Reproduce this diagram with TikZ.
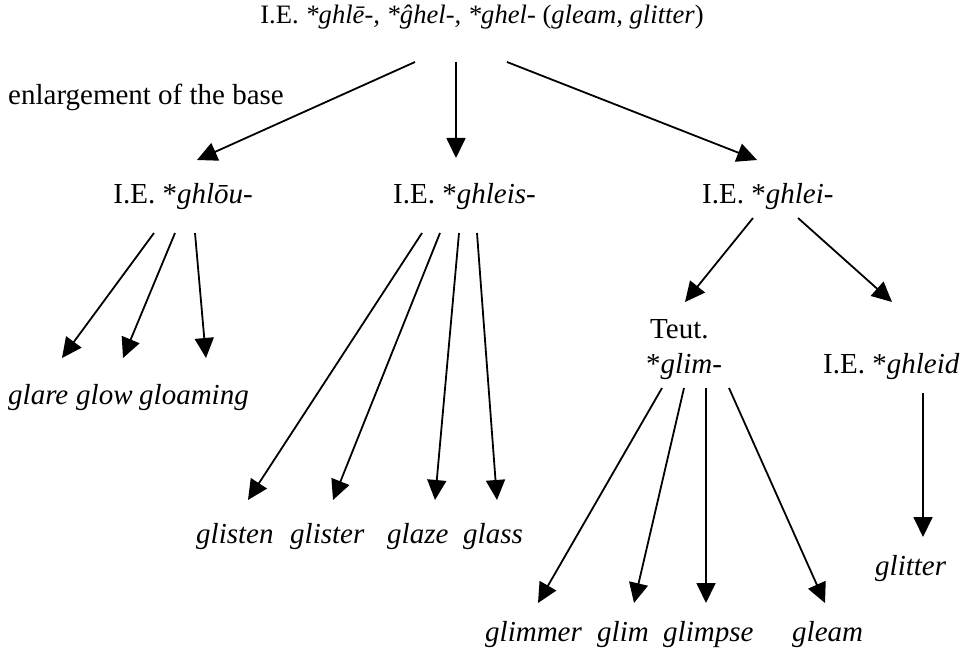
\documentclass[tikz,border=0pt]{standalone}
\usepackage{fontspec}
\setmainfont{Liberation Serif}
\usetikzlibrary{arrows.meta,calc}
\begin{document}
\begin{tikzpicture}[x=1pt,y=-1pt,
  lbl/.style={inner sep=0pt,font=\fontsize{29}{34}\selectfont},
  arr/.style={line width=1.8pt,-{Triangle[length=20pt,width=19pt]}}]
\useasboundingbox (0,0) rectangle (961,650);
% nodes
\node[lbl,anchor=base,font=\fontsize{26.6}{31}\selectfont] (top) at (482,24) {I.E. \textit{*ghlē-, *ĝhel-, *ghel-} (\textit{gleam, glitter})};
\node[lbl,anchor=base west] (enl) at (8,105) {enlargement of the base};
\node[lbl,anchor=base east] (ghlou) at (253,203) {I.E. *\textit{ghlōu-}};
\node[lbl,anchor=base west] (ghleis) at (393,203) {I.E. *\textit{ghleis-}};
\node[lbl,anchor=base west] (ghlei) at (702,203) {I.E. *\textit{ghlei-}};
\node[lbl,anchor=base west] (teut) at (650,338) {Teut.};
\node[lbl,anchor=base west] (glim) at (646,373) {*\textit{glim-}};
\node[lbl,anchor=base west] (ghleid) at (823,373) {I.E. *\textit{ghleid}};
\node[lbl,anchor=base west] (glare) at (8,404) {\textit{glare}};
\node[lbl,anchor=base west] (glow) at (76,404) {\textit{glow}};
\node[lbl,anchor=base west] (gloaming) at (139,404) {\textit{gloaming}};
\node[lbl,anchor=base west] (glisten) at (196,543) {\textit{glisten}};
\node[lbl,anchor=base west] (glister) at (290,543) {\textit{glister}};
\node[lbl,anchor=base west] (glaze) at (387,543) {\textit{glaze}};
\node[lbl,anchor=base west] (glass) at (463,543) {\textit{glass}};
\node[lbl,anchor=base west] (glimmer) at (485,641) {\textit{glimmer}};
\node[lbl,anchor=base west] (glimw) at (597,641) {\textit{glim}};
\node[lbl,anchor=base west] (glimpse) at (663,641) {\textit{glimpse}};
\node[lbl,anchor=base west] (gleam) at (792,641) {\textit{gleam}};
\node[lbl,anchor=base west] (glitter) at (875,575) {\textit{glitter}};
% connectors from top
\draw[arr] ($(top.base)+(-67,38)$) -- ($(ghlou.base east)+(-56,-43)$);
\draw[arr] ($(top.base)+(-26,38)$) -- ($(ghleis.base west)+(63,-45)$);
\draw[arr] ($(top.base)+(25,38)$) -- ($(ghlei.base west)+(55,-43)$);
% from ghlou
\draw[arr] ($(ghlou.base east)+(-99,30)$) -- ($(glare.base west)+(54,-46)$);
\draw[arr] ($(ghlou.base east)+(-78,30)$) -- ($(glow.base west)+(47,-46)$);
\draw[arr] ($(ghlou.base east)+(-58,30)$) -- ($(gloaming.base west)+(67,-46)$);
% from ghleis
\draw[arr] ($(ghleis.base west)+(29,30)$) -- ($(glisten.base west)+(52,-43)$);
\draw[arr] ($(ghleis.base west)+(47,30)$) -- ($(glister.base west)+(43,-43)$);
\draw[arr] ($(ghleis.base west)+(66,30)$) -- ($(glaze.base west)+(48,-43)$);
\draw[arr] ($(ghleis.base west)+(84,30)$) -- ($(glass.base west)+(34,-43)$);
% from ghlei
\draw[arr] ($(ghlei.base west)+(51,15)$) -- ($(teut.base west)+(35,-36)$);
\draw[arr] ($(ghlei.base west)+(96,15)$) -- ($(ghleid.base west)+(69,-71)$);
% from glim
\draw[arr] ($(glim.base west)+(16,15)$) -- ($(glimmer.base west)+(53,-38)$);
\draw[arr] ($(glim.base west)+(38,15)$) -- ($(glimw.base west)+(37,-38)$);
\draw[arr] ($(glim.base west)+(60,15)$) -- ($(glimpse.base west)+(43,-38)$);
\draw[arr] ($(glim.base west)+(83,15)$) -- ($(gleam.base west)+(33,-38)$);
% from ghleid
\draw[arr] ($(ghleid.base west)+(100,20)$) -- ($(glitter.base west)+(48,-38)$);
\end{tikzpicture}
\end{document}
